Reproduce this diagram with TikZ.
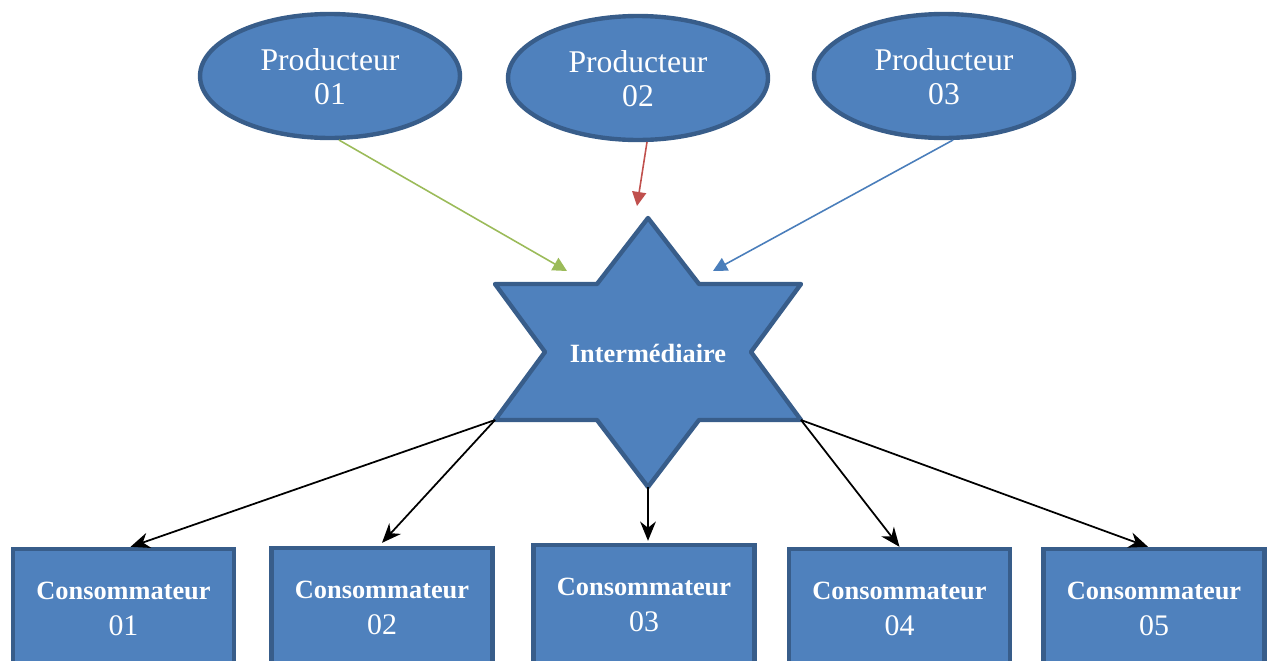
\documentclass[tikz,border=0pt]{standalone}
\usepackage{fontspec}
\setmainfont{Liberation Serif}
\usetikzlibrary{
  positioning,
  arrows.meta,
  shapes.geometric,
  calc
}
\definecolor{boxfill}{HTML}{4F81BD}
\definecolor{boxline}{HTML}{385D8A}
\definecolor{linkgreen}{HTML}{9BBB59}
\definecolor{linkred}{HTML}{C0504D}
\definecolor{linkblue}{HTML}{4A7EBB}

\begin{document}
\begin{tikzpicture}[
  x=0.02cm, y=-0.02cm,
  prod/.style={ellipse, draw=boxline, fill=boxfill, line width=2.5pt, inner sep=0pt,
               minimum width=5.2cm, minimum height=2.48cm, text=white, align=center,
               font=\fontsize{18}{19.5}\selectfont},
  cons/.style={rectangle, draw=boxline, fill=boxfill, line width=2.5pt, inner sep=0pt,
               minimum width=4.42cm, minimum height=2.4cm, text=white, align=center,
               font=\fontsize{15}{20.4}\selectfont},
  hexstar/.style={draw=boxline, fill=boxfill, line width=2.5pt, line join=round},
  feed/.style={line width=0.9pt, -{Triangle[length=8pt, width=8pt]}},
  supply/.style={line width=1pt, -{Stealth[length=11pt, width=9pt]}},
]
  \clip (0,0) rectangle (1272,660);

  % producteurs
  \node[prod] (p1) at (330,76) {\strut Producteur\\01};
  \node[prod] (p2) at (638,78) {\strut Producteur\\02};
  \node[prod] (p3) at (944,76) {\strut Producteur\\03};

  % intermediaire
  \coordinate (st)  at (648,218);
  \coordinate (sur) at (801,284);
  \coordinate (slr) at (801,420);
  \coordinate (sb)  at (648,487);
  \coordinate (sll) at (495,420);
  \coordinate (sul) at (495,284);
  \draw[hexstar] (st) -- (699,284) -- (sur) -- (751,352) -- (slr) -- (699,420)
    -- (sb) -- (597,420) -- (sll) -- (545,352) -- (sul) -- (597,284) -- cycle;
  \node[text=white, font=\fontsize{15}{18}\selectfont\bfseries] (inter) at (648,353) {Intermédiaire};

  % consommateurs
  \node[cons] (c1) at (123.5,609) {\textbf{Consommateur}\\{\fontsize{17}{20.4}\selectfont 01}};
  \node[cons] (c2) at (382,608) {\textbf{Consommateur}\\{\fontsize{17}{20.4}\selectfont 02}};
  \node[cons] (c3) at (644,605) {\textbf{Consommateur}\\{\fontsize{17}{20.4}\selectfont 03}};
  \node[cons] (c4) at (899.5,609) {\textbf{Consommateur}\\{\fontsize{17}{20.4}\selectfont 04}};
  \node[cons] (c5) at (1154,609) {\textbf{Consommateur}\\{\fontsize{17}{20.4}\selectfont 05}};

  % flux
  \coordinate (gtip) at (567,271);
  \coordinate (rtip) at (637,206);
  \coordinate (btip) at (713,271);
  \draw[feed, linkgreen] (p1.-82) -- (gtip);
  \draw[feed, linkred]   (p2.-82) -- (rtip);
  \draw[feed, linkblue]  (p3.-82) -- (btip);

  \draw[supply] (sll) -- ([xshift=0.14cm]c1.north);
  \draw[supply] (sll) -- ([yshift=0.06cm]c2.north);
  \draw[supply] (sb)  -- ([xshift=0.08cm,yshift=0.04cm]c3.north);
  \draw[supply] (slr) -- (c4.north);
  \draw[supply] (slr) -- ([xshift=-0.12cm]c5.north);
\end{tikzpicture}
\end{document}
